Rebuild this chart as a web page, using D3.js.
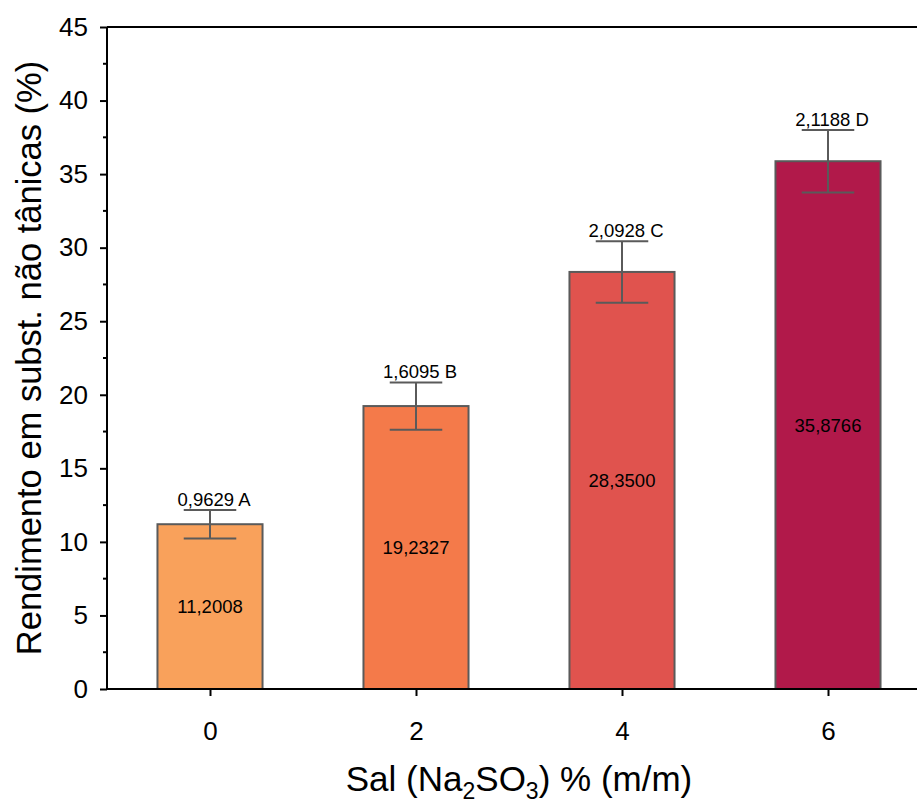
<!DOCTYPE html>
<html>
<head>
<meta charset="utf-8">
<script src="https://cdn.jsdelivr.net/npm/d3@7"></script>
<style>
  body { margin: 0; background: #fff; }
  text { font-family: "Liberation Sans", Arial, sans-serif; }
</style>
</head>
<body>
<svg width="917" height="800"></svg>
<script>
// data
var sal = [0, 2, 4, 6];
var rendimento = [11.2008, 19.2327, 28.35, 35.8766];
var desvio = [0.9629, 1.6095, 2.0928, 2.1188];
var letras = ["A", "B", "C", "D"];
var cores = ["#F9A15B", "#F47A4A", "#E0534E", "#B1194A"];
var yTicks = [0, 5, 10, 15, 20, 25, 30, 35, 40, 45];
var xTicks = [0, 2, 4, 6];

var fmt = function(v, n) { return v.toFixed(n).replace(".", ","); };

var svg = d3.select("svg");
var plotLeft = 107, plotTop = 27, plotBottom = 689;

var x = d3.scaleLinear().domain([-1, 7]).range([plotLeft, plotLeft + 8 * 103]);
var y = d3.scaleLinear().domain([0, 45]).range([plotBottom, plotTop]);

var barHalf = 0.51;

// bars
svg.selectAll("rect.bar")
  .data(sal)
  .enter()
  .append("rect")
  .attr("class", "bar")
  .attr("x", function(d) { return x(d - barHalf); })
  .attr("width", function(d) { return x(d + barHalf) - x(d - barHalf); })
  .attr("y", function(d, i) { return y(rendimento[i]); })
  .attr("height", function(d, i) { return y(0) - y(rendimento[i]); })
  .attr("fill", function(d, i) { return cores[i]; })
  .attr("stroke", "#5a5a5a")
  .attr("stroke-width", 2);

// error bars
var capHalf = 0.255;
var eb = svg.selectAll("g.err")
  .data(sal)
  .enter()
  .append("g")
  .attr("class", "err")
  .attr("stroke", "#5a5a5a")
  .attr("stroke-width", 2);
eb.append("line")
  .attr("x1", function(d) { return x(d); })
  .attr("x2", function(d) { return x(d); })
  .attr("y1", function(d, i) { return y(rendimento[i] - desvio[i]); })
  .attr("y2", function(d, i) { return y(rendimento[i] + desvio[i]); });
eb.append("line")
  .attr("x1", function(d) { return x(d - capHalf); })
  .attr("x2", function(d) { return x(d + capHalf); })
  .attr("y1", function(d, i) { return y(rendimento[i] + desvio[i]); })
  .attr("y2", function(d, i) { return y(rendimento[i] + desvio[i]); });
eb.append("line")
  .attr("x1", function(d) { return x(d - capHalf); })
  .attr("x2", function(d) { return x(d + capHalf); })
  .attr("y1", function(d, i) { return y(rendimento[i] - desvio[i]); })
  .attr("y2", function(d, i) { return y(rendimento[i] - desvio[i]); });

// labels
svg.selectAll("text.sd")
  .data(sal)
  .enter()
  .append("text")
  .attr("class", "sd")
  .attr("x", function(d) { return x(d) + 4; })
  .attr("y", function(d, i) { return y(rendimento[i] + desvio[i]) - 4; })
  .attr("text-anchor", "middle")
  .attr("font-size", 18.5)
  .text(function(d, i) { return fmt(desvio[i], 4) + " " + letras[i]; });

svg.selectAll("text.val")
  .data(sal)
  .enter()
  .append("text")
  .attr("class", "val")
  .attr("x", function(d) { return x(d); })
  .attr("y", function(d, i) { return y(rendimento[i] / 2); })
  .attr("dy", "0.35em")
  .attr("text-anchor", "middle")
  .attr("font-size", 18.5)
  .text(function(d, i) { return fmt(rendimento[i], 4); });

// axes
var yAxis = d3.axisLeft(y).tickValues(yTicks).tickSize(7).tickPadding(12);
var yg = svg.append("g").attr("transform", "translate(" + plotLeft + ",0)").call(yAxis);
yg.attr("font-size", null).attr("font-family", null);
yg.selectAll("text").attr("font-size", 26).attr("fill", "#000");
yg.select(".domain").attr("stroke-width", 2).attr("d", "M0," + y(0) + "V" + y(45));
yg.selectAll(".tick line").attr("stroke-width", 2);
yg.selectAll(".minor")
  .data(d3.range(2.5, 45, 5))
  .enter()
  .append("line")
  .attr("class", "minor")
  .attr("x1", -4).attr("x2", 0)
  .attr("y1", function(d) { return y(d); })
  .attr("y2", function(d) { return y(d); })
  .attr("stroke", "#000")
  .attr("stroke-width", 2);

var xAxis = d3.axisBottom(x).tickValues(xTicks).tickSize(7).tickPadding(26);
var xg = svg.append("g").attr("transform", "translate(0," + plotBottom + ")").call(xAxis);
xg.attr("font-size", null).attr("font-family", null);
xg.selectAll("text").attr("font-size", 26).attr("fill", "#000");
xg.select(".domain").attr("stroke-width", 2).attr("d", "M" + plotLeft + ",0H" + x(7));
xg.selectAll(".tick line").attr("stroke-width", 2);

// top border
svg.append("line")
  .attr("x1", plotLeft).attr("x2", x(7))
  .attr("y1", y(45)).attr("y2", y(45))
  .attr("stroke", "#000").attr("stroke-width", 2);

// axis titles
svg.append("text")
  .attr("transform", "translate(41," + ((plotTop + plotBottom) / 2) + ") rotate(-90)")
  .attr("text-anchor", "middle")
  .attr("font-size", 34.5)
  .text("Rendimento em subst. não tânicas (%)");

var xt = svg.append("text")
  .attr("x", (plotLeft + x(7)) / 2)
  .attr("y", 791)
  .attr("text-anchor", "middle")
  .attr("font-size", 35);
xt.append("tspan").text("Sal (Na");
xt.append("tspan").attr("font-size", 23).attr("dy", 8).text("2");
xt.append("tspan").attr("dy", -8).text("SO");
xt.append("tspan").attr("font-size", 23).attr("dy", 8).text("3");
xt.append("tspan").attr("dy", -8).text(") % (m/m)");
</script>
</body>
</html>
